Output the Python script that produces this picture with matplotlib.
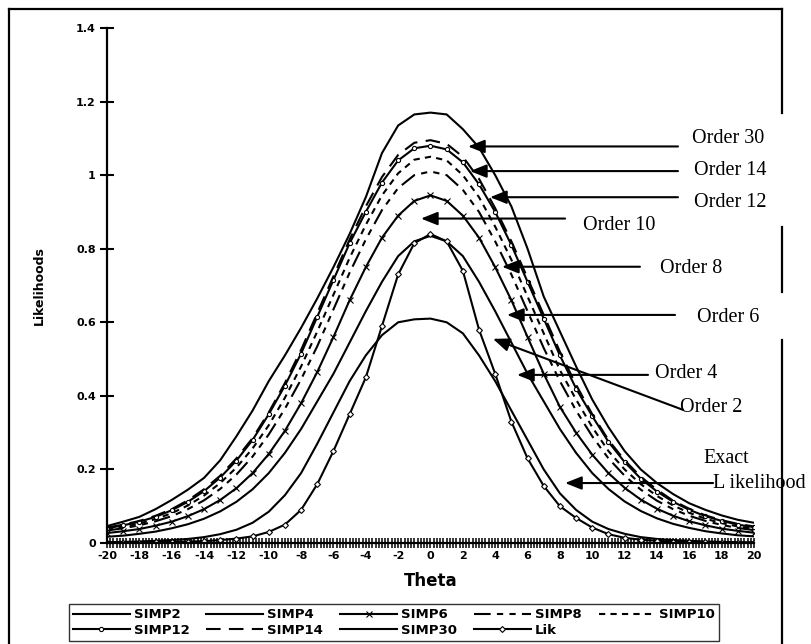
import matplotlib.pyplot as plt
from matplotlib.lines import Line2D
from matplotlib.ticker import MultipleLocator, FuncFormatter

plt.rcParams['font.family'] = 'DejaVu Sans'
plt.rcParams['font.weight'] = 'bold'
plt.rcParams['axes.unicode_minus'] = False

# theta grid (-20 .. 20, step 1)
theta = list(range(-20, 21))

# likelihood curves
simp2 = [0.002, 0.003, 0.004, 0.006, 0.008, 0.011, 0.016, 0.024, 0.036, 0.055,
         0.085, 0.13, 0.19, 0.27, 0.355, 0.44, 0.51, 0.565, 0.6, 0.608,
         0.61,
         0.6, 0.57, 0.51, 0.44, 0.36, 0.28, 0.2, 0.135, 0.09, 0.058,
         0.038, 0.025, 0.016, 0.011, 0.008, 0.006, 0.004, 0.003, 0.002, 0.002]
simp4 = [0.017, 0.02, 0.025, 0.031, 0.04, 0.051, 0.066, 0.086, 0.112, 0.146,
         0.19, 0.245, 0.31, 0.385, 0.46, 0.545, 0.63, 0.71, 0.78, 0.82,
         0.835,
         0.82, 0.78, 0.71, 0.63, 0.545, 0.46, 0.385, 0.31, 0.245, 0.19,
         0.147, 0.113, 0.087, 0.067, 0.052, 0.041, 0.032, 0.026, 0.021, 0.018]
simp6 = [0.027, 0.032, 0.038, 0.047, 0.058, 0.073, 0.092, 0.117, 0.149, 0.19,
         0.242, 0.305, 0.38, 0.465, 0.56, 0.66, 0.75, 0.83, 0.89, 0.93,
         0.945,
         0.93, 0.89, 0.83, 0.75, 0.66, 0.56, 0.46, 0.37, 0.3, 0.24,
         0.19, 0.15, 0.118, 0.093, 0.074, 0.059, 0.048, 0.039, 0.033, 0.028]
simp8 = [0.034, 0.04, 0.048, 0.059, 0.073, 0.092, 0.116, 0.147, 0.186, 0.235,
         0.295, 0.365, 0.445, 0.535, 0.635, 0.735, 0.825, 0.905, 0.965, 1.0,
         1.01,
         1.0, 0.96, 0.9, 0.82, 0.73, 0.63, 0.53, 0.44, 0.36, 0.29,
         0.23, 0.183, 0.145, 0.115, 0.092, 0.074, 0.06, 0.049, 0.041, 0.035]
simp10 = [0.037, 0.044, 0.053, 0.065, 0.081, 0.102, 0.129, 0.163, 0.205, 0.257,
          0.32, 0.395, 0.48, 0.575, 0.675, 0.775, 0.865, 0.945, 1.005, 1.042,
          1.05,
          1.04, 1.0, 0.94, 0.86, 0.77, 0.67, 0.57, 0.47, 0.39, 0.315,
          0.25, 0.2, 0.16, 0.128, 0.102, 0.082, 0.066, 0.054, 0.045, 0.039]
simp12 = [0.04, 0.048, 0.058, 0.071, 0.089, 0.112, 0.141, 0.178, 0.224, 0.28,
          0.35, 0.428, 0.515, 0.615, 0.715, 0.815, 0.9, 0.98, 1.04, 1.073,
          1.08,
          1.07, 1.035, 0.975, 0.9, 0.81, 0.71, 0.61, 0.51, 0.42, 0.345,
          0.275, 0.22, 0.175, 0.14, 0.112, 0.09, 0.073, 0.06, 0.05, 0.043]
simp14 = [0.042, 0.05, 0.06, 0.074, 0.092, 0.116, 0.146, 0.183, 0.23, 0.285,
          0.355, 0.435, 0.525, 0.625, 0.725, 0.825, 0.915, 0.995, 1.055, 1.088,
          1.095,
          1.085, 1.05, 0.99, 0.91, 0.82, 0.72, 0.62, 0.52, 0.43, 0.35,
          0.28, 0.225, 0.18, 0.145, 0.115, 0.093, 0.075, 0.062, 0.052, 0.045]
simp30 = [0.046, 0.058, 0.071, 0.092, 0.117, 0.145, 0.177, 0.225, 0.29, 0.36,
          0.44, 0.51, 0.585, 0.665, 0.75, 0.84, 0.94, 1.06, 1.135, 1.165,
          1.17,
          1.165, 1.125, 1.075, 1.0, 0.915, 0.8, 0.67, 0.575, 0.48, 0.39,
          0.315, 0.25, 0.2, 0.163, 0.133, 0.108, 0.09, 0.075, 0.063, 0.055]
lik = [0.0, 0.001, 0.001, 0.002, 0.003, 0.004, 0.005, 0.008, 0.012, 0.018,
       0.03, 0.05, 0.09, 0.16, 0.25, 0.35, 0.45, 0.59, 0.73, 0.815,
       0.84,
       0.82, 0.74, 0.58, 0.46, 0.33, 0.23, 0.155, 0.1, 0.068, 0.042,
       0.024, 0.014, 0.009, 0.006, 0.004, 0.003, 0.002, 0.001, 0.001, 0.0]

names = ["SIMP2", "SIMP4", "SIMP6", "SIMP8", "SIMP10",
         "SIMP12", "SIMP14", "SIMP30", "Lik"]
values = [simp2, simp4, simp6, simp8, simp10, simp12, simp14, simp30, lik]
styles = [
    dict(ls='-'),
    dict(ls='-'),
    dict(ls='-', marker='x', ms=4, mew=0.8),
    dict(ls=(0, (8, 3, 3, 3, 3, 3))),
    dict(ls=(0, (3, 2.5))),
    dict(ls='-', marker='o', ms=3, mfc='white', mew=0.8),
    dict(ls=(0, (7, 4))),
    dict(ls='-'),
    dict(ls='-', marker='D', ms=3, mfc='white', mew=0.8),
]

# annotation labels: text, arrow tip, arrow tail, text position (data units)
notes = [
    ("Order 30", (2.32, 1.078), (15.30, 1.078), (16.17, 1.088)),
    ("Order 14", (2.44, 1.011), (15.30, 1.011), (16.29, 1.001)),
    ("Order 12", (3.68, 0.940), (15.30, 0.940), (16.29, 0.914)),
    ("Order 10", (-0.59, 0.882), (8.32, 0.882), (9.43, 0.852)),
    ("Order 8", (4.42, 0.751), (12.95, 0.751), (14.19, 0.735)),
    ("Order 6", (4.73, 0.620), (15.12, 0.620), (16.48, 0.601)),
    ("Order 4", (5.35, 0.457), (13.45, 0.457), (13.88, 0.449)),
    ("Order 2", (3.86, 0.555), (15.61, 0.362), (15.42, 0.356)),
    ("L ikelihood", (8.32, 0.163), (17.47, 0.163), (17.47, 0.150)),
]

W, H = 811, 644
fig = plt.figure(figsize=(W / 100, H / 100), dpi=100)
ax = fig.add_axes([107 / W, 1 - 543 / H, 647 / W, 515 / H])

handles = []
for name, vals, st in zip(names, values, styles):
    h, = ax.plot(theta, vals, color='black', lw=1.5, label=name, **st)
    handles.append(h)

ax.set_xlim(-20, 20)
ax.set_ylim(0, 1.4)
for s in ['top', 'right']:
    ax.spines[s].set_visible(False)
for s in ['left', 'bottom']:
    ax.spines[s].set_linewidth(1.6)

# dense tick hatching along the theta axis
ax.xaxis.set_major_locator(MultipleLocator(2))
ax.xaxis.set_minor_locator(MultipleLocator(0.2))
ax.yaxis.set_major_locator(MultipleLocator(0.2))
ax.yaxis.set_major_formatter(FuncFormatter(lambda v, p: f"{v:g}"))
ax.tick_params(axis='x', which='both', direction='inout', length=7,
               width=1.1, labelsize=8, pad=2)
ax.tick_params(axis='y', which='major', direction='inout', length=10,
               width=1.5, labelsize=8, pad=3)

ax.set_xlabel("Theta", fontsize=12, fontweight='bold')
ax.xaxis.set_label_coords(0.5, (543 - 572) / 515)
ax.set_ylabel("Likelihoods", fontsize=9, fontweight='bold')
ax.yaxis.set_label_coords(-0.094, 0.5)

# annotations
arrow = dict(arrowstyle='-|>,head_length=0.5,head_width=0.2',
             mutation_scale=20, lw=1.5, color='black', shrinkA=0, shrinkB=0)
for txt, tip, tail, pos in notes:
    ax.annotate('', xy=tip, xytext=tail, arrowprops=arrow,
                annotation_clip=False)
    ax.text(pos[0], pos[1], txt, family='Liberation Serif', fontsize=14.5,
            fontweight='normal', ha='left', va='baseline', clip_on=False)
ax.text(16.85, 0.218, "Exact", family='Liberation Serif', fontsize=14.5,
        fontweight='normal', ha='left', va='baseline', clip_on=False)

# legend: order so that rows read SIMP2..SIMP10 / SIMP12..Lik
order = [0, 5, 1, 6, 2, 7, 3, 8, 4]
leg = fig.legend([handles[i] for i in order], [names[i] for i in order],
                 ncol=5, loc='center', bbox_to_anchor=(394 / W, 1 - 622.5 / H),
                 frameon=True, fancybox=False, edgecolor='black',
                 prop=dict(weight='bold', size=9.5), handlelength=4.3,
                 handletextpad=0.3, columnspacing=1.3, borderpad=0.3,
                 labelspacing=0.2, borderaxespad=0)
leg.get_frame().set_linewidth(1.0)

# chart border (gaps where the text boxes sit over it)
border = [
    ([9, 9], [9, H]),
    ([9, 782], [9, 9]),
    ([782, 782], [9, 113]),
    ([782, 782], [227, 292]),
    ([782, 782], [340, H]),
]
for xs, ys in border:
    fig.add_artist(Line2D([x / W for x in xs], [1 - y / H for y in ys],
                          transform=fig.transFigure, color='black', lw=1.6))

fig.savefig("out.png", dpi=100)
